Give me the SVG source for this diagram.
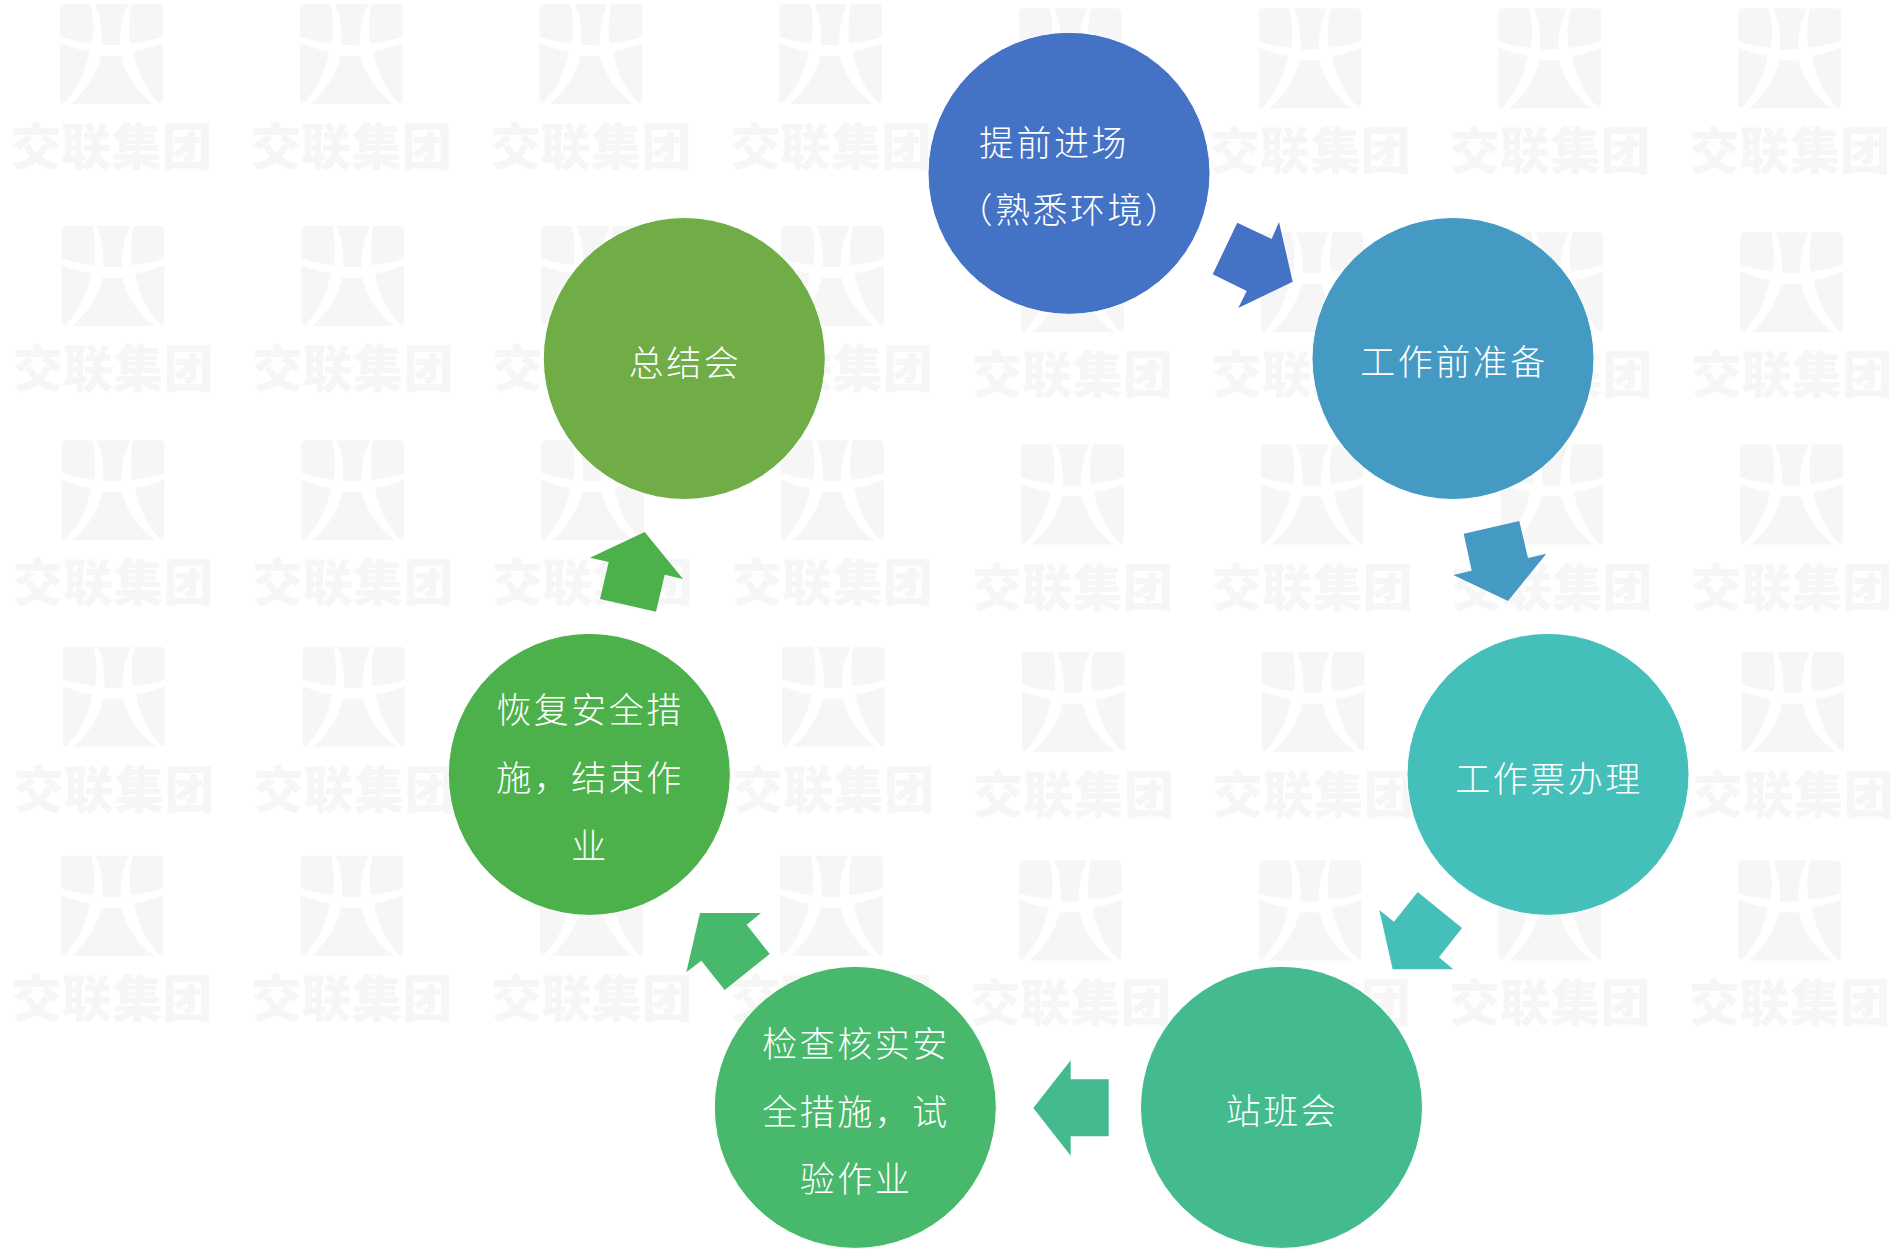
<svg xmlns="http://www.w3.org/2000/svg" width="1895" height="1250" viewBox="0 0 1895 1250">
<style>
.wl{fill:#f6f6f6}
.wt{font-family:"Noto Sans CJK SC",sans-serif;font-weight:900;font-size:50px;letter-spacing:.3px;fill:#f6f6f6}
.c{stroke:#fff;stroke-width:1}
.t{font-family:"Liberation Serif","Noto Sans CJK SC",serif;font-size:35px;letter-spacing:2.5px;fill:#fff;text-anchor:middle;font-weight:300}
</style>
<defs>
<g id="lg" class="wl" transform="translate(-10,-4) scale(.33333)">
<path d="M44 12H122C131 45 133 90 127 130C90 126 60 120 30 110V26Q30 12 44 12Z"/>
<path d="M135 12H235C217 50 208 90 210 135H155C157 90 153 50 135 12Z"/>
<path d="M246 12H324Q338 12 338 26V110C308 120 280 126 240 130C235 90 237 45 246 12Z"/>
<path d="M30 130C60 142 90 150 118 155C105 220 80 270 40 310Q30 310 30 298Z"/>
<path d="M338 130C308 142 280 150 250 155C263 220 288 270 328 310Q338 310 338 298Z"/>
<path d="M152 168H212C225 225 260 275 310 312H62C105 275 140 225 152 168Z"/>
</g>
</defs>
<rect width="1895" height="1250" fill="#fff"/>
<g id="watermarks">
<g transform="translate(60,4)"><use href="#lg"/><text class="wt" x="-49" y="161">交联集团</text></g>
<g transform="translate(299.8,4)"><use href="#lg"/><text class="wt" x="-49" y="161">交联集团</text></g>
<g transform="translate(539.5,4)"><use href="#lg"/><text class="wt" x="-49" y="161">交联集团</text></g>
<g transform="translate(779.3,4)"><use href="#lg"/><text class="wt" x="-49" y="161">交联集团</text></g>
<g transform="translate(1019,8.4)"><use href="#lg"/><text class="wt" x="-49" y="161">交联集团</text></g>
<g transform="translate(1258.8,8.4)"><use href="#lg"/><text class="wt" x="-49" y="161">交联集团</text></g>
<g transform="translate(1498.6,8.4)"><use href="#lg"/><text class="wt" x="-49" y="161">交联集团</text></g>
<g transform="translate(1738.3,8.4)"><use href="#lg"/><text class="wt" x="-49" y="161">交联集团</text></g>
<g transform="translate(61.7,225.9)"><use href="#lg"/><text class="wt" x="-49" y="161">交联集团</text></g>
<g transform="translate(301.5,225.9)"><use href="#lg"/><text class="wt" x="-49" y="161">交联集团</text></g>
<g transform="translate(541.2,225.9)"><use href="#lg"/><text class="wt" x="-49" y="161">交联集团</text></g>
<g transform="translate(781,225.9)"><use href="#lg"/><text class="wt" x="-49" y="161">交联集团</text></g>
<g transform="translate(1021,232.2)"><use href="#lg"/><text class="wt" x="-49" y="161">交联集团</text></g>
<g transform="translate(1260.8,232.2)"><use href="#lg"/><text class="wt" x="-49" y="161">交联集团</text></g>
<g transform="translate(1500.6,232.2)"><use href="#lg"/><text class="wt" x="-49" y="161">交联集团</text></g>
<g transform="translate(1740.3,232.2)"><use href="#lg"/><text class="wt" x="-49" y="161">交联集团</text></g>
<g transform="translate(61.7,440.3)"><use href="#lg"/><text class="wt" x="-49" y="161">交联集团</text></g>
<g transform="translate(301.5,440.3)"><use href="#lg"/><text class="wt" x="-49" y="161">交联集团</text></g>
<g transform="translate(541.2,440.3)"><use href="#lg"/><text class="wt" x="-49" y="161">交联集团</text></g>
<g transform="translate(781,440.3)"><use href="#lg"/><text class="wt" x="-49" y="161">交联集团</text></g>
<g transform="translate(1021,444.5)"><use href="#lg"/><text class="wt" x="-49" y="161">交联集团</text></g>
<g transform="translate(1260.8,444.5)"><use href="#lg"/><text class="wt" x="-49" y="161">交联集团</text></g>
<g transform="translate(1500.6,444.5)"><use href="#lg"/><text class="wt" x="-49" y="161">交联集团</text></g>
<g transform="translate(1740.3,444.5)"><use href="#lg"/><text class="wt" x="-49" y="161">交联集团</text></g>
<g transform="translate(62.7,646.8)"><use href="#lg"/><text class="wt" x="-49" y="161">交联集团</text></g>
<g transform="translate(302.5,646.8)"><use href="#lg"/><text class="wt" x="-49" y="161">交联集团</text></g>
<g transform="translate(542.2,646.8)"><use href="#lg"/><text class="wt" x="-49" y="161">交联集团</text></g>
<g transform="translate(782,646.8)"><use href="#lg"/><text class="wt" x="-49" y="161">交联集团</text></g>
<g transform="translate(1022,651.8)"><use href="#lg"/><text class="wt" x="-49" y="161">交联集团</text></g>
<g transform="translate(1261.8,651.8)"><use href="#lg"/><text class="wt" x="-49" y="161">交联集团</text></g>
<g transform="translate(1501.6,651.8)"><use href="#lg"/><text class="wt" x="-49" y="161">交联集团</text></g>
<g transform="translate(1741.7,651.8)"><use href="#lg"/><text class="wt" x="-49" y="161">交联集团</text></g>
<g transform="translate(60.7,855.8)"><use href="#lg"/><text class="wt" x="-49" y="161">交联集团</text></g>
<g transform="translate(300.5,855.8)"><use href="#lg"/><text class="wt" x="-49" y="161">交联集团</text></g>
<g transform="translate(540.2,855.8)"><use href="#lg"/><text class="wt" x="-49" y="161">交联集团</text></g>
<g transform="translate(780,855.8)"><use href="#lg"/><text class="wt" x="-49" y="161">交联集团</text></g>
<g transform="translate(1019,860.4)"><use href="#lg"/><text class="wt" x="-49" y="161">交联集团</text></g>
<g transform="translate(1258.8,860.4)"><use href="#lg"/><text class="wt" x="-49" y="161">交联集团</text></g>
<g transform="translate(1498.6,860.4)"><use href="#lg"/><text class="wt" x="-49" y="161">交联集团</text></g>
<g transform="translate(1738.3,860.4)"><use href="#lg"/><text class="wt" x="-49" y="161">交联集团</text></g>
</g>
<g id="connectors">
<polygon fill="#4472C4" points="1237.3,222.7 1271.7,239 1279,222 1292.7,281.7 1238.3,308 1246.7,291 1212.7,274.3"/>
<polygon fill="#449AC2" points="1463.7,533.7 1519.3,521 1528,558 1546.3,553.7 1508,601 1453.3,575 1471.7,570.7"/>
<polygon fill="#45BFBA" points="1417.7,892 1462,928 1439,957.3 1453.3,969.3 1392.7,969.3 1379.3,910 1394,921.7"/>
<polygon fill="#44BB8F" points="1070.7,1060.3 1070.7,1079.3 1108.7,1079.3 1108.7,1136.3 1070.7,1136.3 1070.7,1155.7 1033.3,1108"/>
<polygon fill="#47B86C" points="700,913 761,913 746.7,924.7 769.7,954 724.7,990 701.3,960.7 686.3,972.3"/>
<polygon fill="#4DB14B" points="644.7,532 683,579 664.7,574.7 656,611.7 600,599 608.7,562 590,557.7"/>
</g>
<g id="node1"><circle class="c" cx="1069" cy="173.3" r="141" fill="#4472C4"/><text class="t" x="1054" y="156">提前进场</text><text class="t" x="1070" y="223">（熟悉环境）</text></g>
<g id="node2"><circle class="c" cx="1453" cy="358.5" r="141" fill="#449AC2"/><text class="t" x="1454" y="375">工作前准备</text></g>
<g id="node3"><circle class="c" cx="1548" cy="774.4" r="141" fill="#45BFBA"/><text class="t" x="1549" y="792">工作票办理</text></g>
<g id="node4"><circle class="c" cx="1281.5" cy="1107.4" r="141" fill="#44BB8F"/><text class="t" x="1282" y="1124">站班会</text></g>
<g id="node5"><circle class="c" cx="855.3" cy="1107.4" r="141" fill="#47B86C"/><text class="t" x="856" y="1057">检查核实安</text><text class="t" x="856" y="1125">全措施，试</text><text class="t" x="856" y="1192">验作业</text></g>
<g id="node6"><circle class="c" cx="589.3" cy="774.4" r="141" fill="#4DB14B"/><text class="t" x="590" y="723">恢复安全措</text><text class="t" x="590" y="791">施，结束作</text><text class="t" x="590" y="859">业</text></g>
<g id="node7"><circle class="c" cx="684.3" cy="358.5" r="141" fill="#70AD47"/><text class="t" x="685" y="376">总结会</text></g>
</svg>
